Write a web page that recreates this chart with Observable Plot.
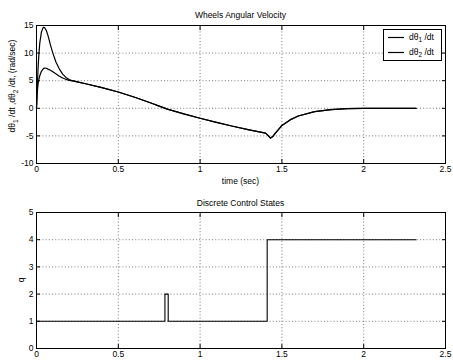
<!DOCTYPE html>
<html>
<head>
<meta charset="utf-8">
<script src="https://cdn.jsdelivr.net/npm/d3@7"></script>
<script src="https://cdn.jsdelivr.net/npm/@observablehq/plot@0.6"></script>
<style>
  html, body { margin: 0; padding: 0; background: #fff; }
  #chart { position: relative; width: 453px; height: 361px; }
  #chart svg { display: block; }
</style>
</head>
<body>
<div id="chart"></div>
<script>
// ---- data ----
const xTicks = [0, 0.5, 1, 1.5, 2, 2.5];
const yTicksTop = [-10, -5, 0, 5, 10, 15];
const yTicksBottom = [0, 1, 2, 3, 4, 5];

// early part, where the two wheels differ
const tEarly  = [0, 0.005, 0.01, 0.015, 0.02, 0.03, 0.04, 0.045, 0.05, 0.06, 0.07, 0.085, 0.1, 0.12, 0.14, 0.16, 0.18, 0.2, 0.22];
const w1Early = [0, 4, 7.5, 10, 11.8, 13.8, 14.6, 14.7, 14.6, 14.1, 13.2, 11.5, 10.0, 8.3, 7.1, 6.2, 5.6, 5.2, 5.0];
const w2Early = [0, 3, 4.5, 5.3, 5.9, 6.7, 7.1, 7.25, 7.3, 7.25, 7.1, 6.9, 6.6, 6.2, 5.8, 5.5, 5.25, 5.05, 4.97];
// later part, where both coincide
const tLate = [0.25, 0.3, 0.4, 0.5, 0.6, 0.7, 0.75, 0.8, 0.9, 1.0, 1.1, 1.2, 1.3, 1.4, 1.415, 1.43, 1.445, 1.46, 1.48, 1.5, 1.55, 1.6, 1.7, 1.8, 1.9, 2.0, 2.1, 2.32];
const wLate = [4.8, 4.45, 3.75, 2.95, 2.0, 0.95, 0.4, -0.15, -1.0, -1.8, -2.55, -3.25, -3.9, -4.5, -4.9, -5.4, -5.1, -4.5, -3.8, -3.1, -2.1, -1.4, -0.6, -0.25, -0.06, 0, 0, 0];

// discrete control state q (step-after)
const qTime = [0, 0.785, 0.805, 1.41, 2.32];
const qVal  = [1, 2, 1, 4, 4];

// ---- build tables ----
const series1 = tEarly.map((t, i) => ({t, v: w1Early[i]})).concat(tLate.map((t, i) => ({t, v: wLate[i]})));
const series2 = tEarly.map((t, i) => ({t, v: w2Early[i]})).concat(tLate.map((t, i) => ({t, v: wLate[i]})));
const qData = qTime.map((t, i) => ({t, q: qVal[i]}));

const FONT = "'Liberation Sans', Arial, Helvetica, sans-serif";
const fmt = d => String(d);
const blank = () => "";
const gridStyle = {stroke: "#444", strokeOpacity: 0.9, strokeWidth: 0.8, strokeDasharray: "1,2.2"};

function framedMarks(yTicks) {
  return [
    Plot.gridX(xTicks, gridStyle),
    Plot.gridY(yTicks, gridStyle),
    Plot.axisX({ticks: xTicks, tickSize: 0, tickPadding: 2.5, tickFormat: fmt, label: null, fill: "#000"}),
    Plot.axisX({ticks: xTicks, anchor: "bottom", tickSize: -4, tickFormat: blank, label: null}),
    Plot.axisX({ticks: xTicks, anchor: "top", tickSize: -4, tickFormat: blank, label: null}),
    Plot.axisY({ticks: yTicks, tickSize: 0, tickPadding: 3, tickFormat: fmt, label: null, fill: "#000"}),
    Plot.axisY({ticks: yTicks, anchor: "left", tickSize: -4, tickFormat: blank, label: null}),
    Plot.axisY({ticks: yTicks, anchor: "right", tickSize: -4, tickFormat: blank, label: null})
  ];
}

const topPlot = Plot.plot({
  width: 453, height: 190,
  marginLeft: 36, marginRight: 8, marginTop: 25, marginBottom: 27,
  style: {fontFamily: FONT, fontSize: "8.5px", color: "#000", background: "#fff", overflow: "visible"},
  x: {domain: [0, 2.5]},
  y: {domain: [-10, 15]},
  marks: [
    ...framedMarks(yTicksTop),
    Plot.line(series2, {x: "t", y: "v", stroke: "#000", strokeWidth: 1.2}),
    Plot.line(series1, {x: "t", y: "v", stroke: "#000", strokeWidth: 1.2}),
    Plot.frame({stroke: "#000", strokeWidth: 1})
  ]
});

const bottomPlot = Plot.plot({
  width: 453, height: 171,
  marginLeft: 36, marginRight: 8, marginTop: 22, marginBottom: 13,
  style: {fontFamily: FONT, fontSize: "8.5px", color: "#000", background: "#fff", overflow: "visible"},
  x: {domain: [0, 2.5]},
  y: {domain: [0, 5]},
  marks: [
    ...framedMarks(yTicksBottom),
    Plot.line(qData, {x: "t", y: "q", curve: "step-after", stroke: "#000", strokeWidth: 1.1}),
    Plot.frame({stroke: "#000", strokeWidth: 1})
  ]
});

const chart = document.getElementById("chart");
chart.appendChild(topPlot);
chart.appendChild(bottomPlot);

// ---- titles & labels ----
const ts = d3.select(topPlot);
ts.append("text").attr("x", 240.5).attr("y", 18).attr("text-anchor", "middle")
  .attr("font-family", FONT).attr("font-size", 8.5).attr("fill", "#000").text("Wheels Angular Velocity");
ts.append("text").attr("x", 240.5).attr("y", 184).attr("text-anchor", "middle")
  .attr("font-family", FONT).attr("font-size", 8.5).attr("fill", "#000").text("time (sec)");

const yl = ts.append("text").attr("transform", "translate(15,86) rotate(-90)")
  .attr("text-anchor", "middle").attr("font-family", FONT).attr("font-size", 8.5).attr("fill", "#000");
yl.append("tspan").text("dθ");
yl.append("tspan").attr("dy", 2.5).attr("font-size", 6.5).text("1");
yl.append("tspan").attr("dy", -2.5).text(" /dt ,dθ");
yl.append("tspan").attr("dy", 2.5).attr("font-size", 6.5).text("2");
yl.append("tspan").attr("dy", -2.5).text(" /dt, (rad/sec)");

// legend
const lg = ts.append("g");
lg.append("rect").attr("x", 383.5).attr("y", 29.5).attr("width", 58).attr("height", 31)
  .attr("fill", "#fff").attr("stroke", "#000").attr("stroke-width", 1);
[["1", 37.5], ["2", 52.5]].forEach(([s, y]) => {
  lg.append("line").attr("x1", 388).attr("x2", 404).attr("y1", y).attr("y2", y)
    .attr("stroke", "#000").attr("stroke-width", 1.2);
  const t = lg.append("text").attr("x", 409).attr("y", y + 2).attr("text-anchor", "start")
    .attr("font-family", FONT).attr("font-size", 8.5).attr("fill", "#000");
  t.append("tspan").text("dθ");
  t.append("tspan").attr("dy", 2.5).attr("font-size", 6.5).text(s);
  t.append("tspan").attr("dy", -2.5).text(" /dt");
});

const bs = d3.select(bottomPlot);
bs.append("text").attr("x", 240.5).attr("y", 15.5).attr("text-anchor", "middle")
  .attr("font-family", FONT).attr("font-size", 8.5).attr("fill", "#000").text("Discrete Control States");
bs.append("text").attr("transform", "translate(24,90) rotate(-90)").attr("text-anchor", "middle")
  .attr("font-family", FONT).attr("font-size", 8.5).attr("fill", "#000").text("q");
</script>
</body>
</html>
